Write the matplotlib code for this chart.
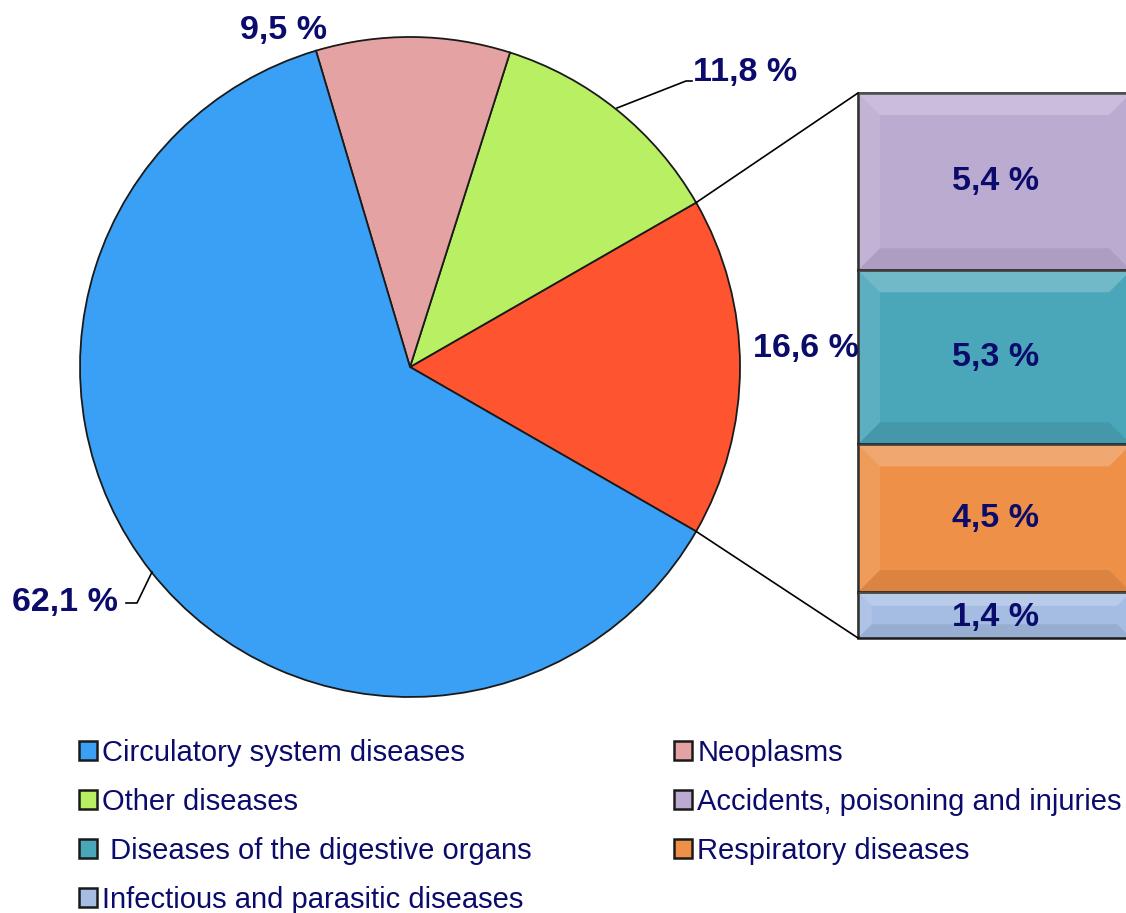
import matplotlib
matplotlib.use("Agg")
import matplotlib.pyplot as plt
import numpy as np
from matplotlib.patches import Patch

plt.rcParams['font.family'] = ['Liberation Sans', 'DejaVu Sans']

# ---- data ----
pie_labels = ["Respiratory and other (detailed)", "Other diseases", "Neoplasms", "Circulatory system diseases"]
pie_values = [16.6, 11.8, 9.5, 62.1]
pie_texts = ["16,6 %", "11,8 %", "9,5 %", "62,1 %"]
pie_colors = ["#fe5530", "#b9ef63", "#e5a2a2", "#3aa0f6"]

bar_labels = ["Infectious and parasitic diseases", "Respiratory diseases",
              " Diseases of the digestive organs", "Accidents, poisoning and injuries"]
bar_values = [1.4, 4.5, 5.3, 5.4]
bar_texts = ["1,4 %", "4,5 %", "5,3 %", "5,4 %"]
bar_colors = ["#a5bde3", "#ee9048", "#4aa6b9", "#bcabd1"]

navy = "#0b0b6b"

W, H = 1126, 913
fig = plt.figure(figsize=(W / 100, H / 100), dpi=100)
ax = fig.add_axes([0, 0, 1, 1])

# ---- pie ----
cx, cy, R = 410, H - 367, 330
start = -pie_values[0] * 3.6 / 2
wedges, _ = ax.pie(pie_values, colors=pie_colors, startangle=start, counterclock=True,
                   center=(cx, cy), radius=R, frame=True,
                   wedgeprops=dict(edgecolor="#1a1a1a", linewidth=1.3))
ax.set_xlim(0, W)
ax.set_ylim(0, H)
ax.set_aspect('equal')
ax.axis('off')

# ---- stacked bar ----
bx0, bwidth = 858, 280
total_h = 545
scale = total_h / sum(bar_values)
bottom_px = H - 638
bottoms = bottom_px + np.concatenate([[0], np.cumsum(bar_values)[:-1]]) * scale
heights = np.array(bar_values) * scale
bars = ax.bar([bx0] * len(bar_values), heights, width=bwidth, bottom=bottoms, align='edge',
              color=bar_colors, edgecolor="#1a1a1a", linewidth=1.8)
for b, t in zip(bars, bar_texts):
    y = b.get_y() + b.get_height() / 2
    if b.get_height() < 60:
        y -= 2
    ax.text(996, y, t, ha='center', va='center', fontsize=24.5, fontweight='bold', color=navy)
    # bevel shading
    bb = b.get_bbox()
    d = min(22, b.get_height() * 0.3)
    x0, y0, x1, y1 = bb.x0, bb.y0, min(bb.x1, W + 5), bb.y1
    ax.fill([x0, x1, x1 - d, x0 + d], [y1, y1, y1 - d, y1 - d], color='white', alpha=0.22, lw=0)
    ax.fill([x0, x0 + d, x0 + d, x0], [y0, y0 + d, y1 - d, y1], color='white', alpha=0.1, lw=0)
    ax.fill([x0, x1, x1 - d, x0 + d], [y0, y0, y0 + d, y0 + d], color='black', alpha=0.08, lw=0)

# ---- connector lines ----
a = np.deg2rad(pie_values[0] * 3.6 / 2)
top_pt = (cx + R * np.cos(a), cy + R * np.sin(a))
bot_pt = (cx + R * np.cos(-a), cy + R * np.sin(-a))
ax.plot([top_pt[0], bx0], [top_pt[1], bottom_px + total_h], color='black', lw=1.2)
ax.plot([bot_pt[0], bx0], [bot_pt[1], bottom_px], color='black', lw=1.2)

# ---- pie labels ----
lab_kw = dict(fontsize=24.5, fontweight='bold', color=navy)
ax.text(806, H - 348, pie_texts[0], ha='center', va='center', **lab_kw)
ax.text(745, H - 72, pie_texts[1], ha='center', va='center', **lab_kw)
ax.plot([617, 686, 692], [H - 108, H - 81, H - 81], color='black', lw=1.2)
ax.text(284, H - 30, pie_texts[2], ha='center', va='center', **lab_kw)
ax.text(65, H - 602, pie_texts[3], ha='center', va='center', **lab_kw)
ax.plot([152, 137, 126], [H - 572, H - 603, H - 603], color='black', lw=1.2)

# ---- legends ----
def mk(color):
    return Patch(facecolor=color, edgecolor="#1a1a1a", linewidth=1.8)

col1 = [("Circulatory system diseases", pie_colors[3]), ("Other diseases", pie_colors[1]),
        (" Diseases of the digestive organs", bar_colors[2]), ("Infectious and parasitic diseases", bar_colors[0])]
col2 = [("Neoplasms", pie_colors[2]), ("Accidents, poisoning and injuries", bar_colors[3]),
        ("Respiratory diseases", bar_colors[1])]

leg_kw = dict(frameon=False, fontsize=21, handlelength=0.6, handleheight=0.6,
              handletextpad=0.2, labelspacing=0.72, borderpad=0, borderaxespad=0)
leg1 = fig.legend([mk(c) for _, c in col1], [l for l, _ in col1], loc='upper left',
                  bbox_to_anchor=(79 / W, 1 - 739 / H), **leg_kw)
leg2 = fig.legend([mk(c) for _, c in col2], [l for l, _ in col2], loc='upper left',
                  bbox_to_anchor=(674 / W, 1 - 739 / H), **leg_kw)
for lg in (leg1, leg2):
    for t in lg.get_texts():
        t.set_color(navy)

fig.savefig("out.png", dpi=100)
